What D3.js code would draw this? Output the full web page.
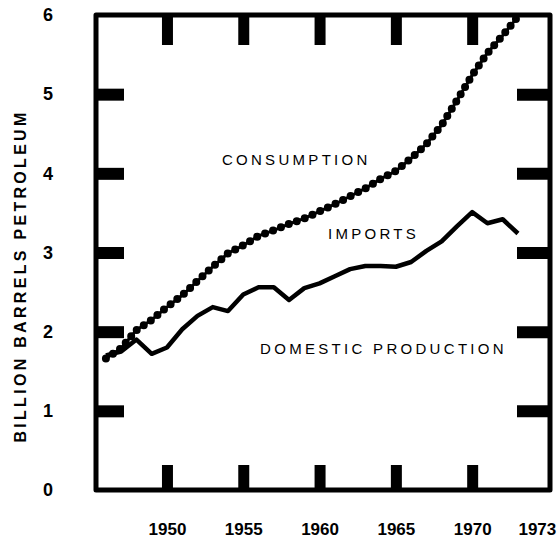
<!DOCTYPE html>
<html>
<head>
<meta charset="utf-8">
<script src="https://cdn.jsdelivr.net/npm/d3@7"></script>
<style>
  body { margin: 0; background: #fff; }
  text { font-family: "Liberation Sans", Arial, sans-serif; fill: #000; }
</style>
</head>
<body>
<svg id="chart" width="560" height="542"></svg>
<script>
// Petroleum, billion barrels per year
const years = [1946, 1947, 1948, 1949, 1950, 1951, 1952, 1953, 1954, 1955,
               1956, 1957, 1958, 1959, 1960, 1961, 1962, 1963, 1964, 1965,
               1966, 1967, 1968, 1969, 1970, 1971, 1972, 1973];
const consumption = [1.66, 1.79, 2.02, 2.15, 2.31, 2.46, 2.64, 2.82, 2.99, 3.09,
                     3.21, 3.28, 3.36, 3.43, 3.52, 3.61, 3.71, 3.81, 3.93, 4.03,
                     4.19, 4.37, 4.61, 4.92, 5.24, 5.52, 5.74, 5.98];
const production = [1.70, 1.75, 1.90, 1.72, 1.80, 2.03, 2.20, 2.31, 2.26, 2.47,
                    2.56, 2.56, 2.40, 2.55, 2.61, 2.70, 2.79, 2.83, 2.83, 2.82,
                    2.88, 3.02, 3.14, 3.33, 3.51, 3.37, 3.42, 3.24];
const yLabels = [0, 1, 2, 3, 4, 5, 6];
const yMarks = [1, 2, 3, 4, 5];
const xMarks = [1950, 1955, 1960, 1965, 1970];
const xLabels = [1950, 1955, 1960, 1965, 1970, 1973];
// annotation anchors in data units (year, billion barrels)
const notes = [
    { text: "CONSUMPTION", year: 1953.6, value: 4.10 },
    { text: "IMPORTS", year: 1960.55, value: 3.17 },
    { text: "DOMESTIC PRODUCTION", year: 1956.1, value: 1.72 }
];

const svg = d3.select("#chart"),
    margin = { top: 15, right: 10, bottom: 52, left: 96 },
    width = 560 - margin.left - margin.right,
    height = 542 - margin.top - margin.bottom;

const x = d3.scaleLinear().domain([1945.35, 1975.1]).range([margin.left, margin.left + width]);
const y = d3.scaleLinear().domain([0, 6]).range([margin.top + height, margin.top]);

const series = years.map((yr, i) => ({ year: yr, cons: consumption[i], prod: production[i] }));

// frame
svg.append("rect")
    .attr("x", margin.left)
    .attr("y", margin.top)
    .attr("width", width)
    .attr("height", height)
    .attr("fill", "none")
    .attr("stroke", "#000")
    .attr("stroke-width", 5)
    .attr("stroke-linejoin", "round");

// heavy inward tick bars on all four sides
function tickBars(g, w) {
    g.select(".domain").remove();
    g.selectAll("line").attr("stroke", "#000").attr("stroke-width", w);
}
svg.append("g").attr("transform", `translate(${margin.left},0)`)
    .call(d3.axisLeft(y).tickValues(yMarks).tickSizeInner(-28).tickSizeOuter(0).tickFormat(""))
    .call(g => tickBars(g, 12));
svg.append("g").attr("transform", `translate(${margin.left + width},0)`)
    .call(d3.axisRight(y).tickValues(yMarks).tickSizeInner(-33).tickSizeOuter(0).tickFormat(""))
    .call(g => tickBars(g, 12));
svg.append("g").attr("transform", `translate(0,${margin.top})`)
    .call(d3.axisTop(x).tickValues(xMarks).tickSizeInner(-30).tickSizeOuter(0).tickFormat(""))
    .call(g => tickBars(g, 11));
svg.append("g").attr("transform", `translate(0,${margin.top + height})`)
    .call(d3.axisBottom(x).tickValues(xMarks).tickSizeInner(-25).tickSizeOuter(0).tickFormat(""))
    .call(g => tickBars(g, 11));

// tick labels
svg.append("g").attr("transform", "translate(48,0)")
    .call(d3.axisLeft(y).tickValues(yLabels).tickSize(0).tickPadding(0).tickFormat(d3.format("d")))
    .call(g => g.select(".domain").remove())
    .selectAll("text")
    .attr("text-anchor", "middle")
    .style("font-size", "18px")
    .style("font-weight", "bold");

svg.append("g").attr("transform", `translate(0,${margin.top + height})`)
    .call(d3.axisBottom(x).tickValues(xLabels).tickSize(0).tickPadding(33).tickFormat(d3.format("d")))
    .call(g => g.select(".domain").remove())
    .selectAll("text")
    .attr("text-anchor", d => d === 1973 ? "start" : "middle")
    .style("font-size", "17px")
    .style("font-weight", "bold");

// y axis title
svg.append("text")
    .attr("transform", "translate(20,276) rotate(-90)")
    .attr("text-anchor", "middle")
    .attr("dy", "0.36em")
    .style("font-size", "16px")
    .style("font-weight", "bold")
    .style("letter-spacing", "3.3px")
    .text("BILLION BARRELS PETROLEUM");

// domestic production: plain heavy line
const prodLine = d3.line().x(d => x(d.year)).y(d => y(d.prod));
svg.append("path")
    .datum(series)
    .attr("d", prodLine)
    .attr("fill", "none")
    .attr("stroke", "#000")
    .attr("stroke-width", 4.5)
    .attr("stroke-linejoin", "round");

// consumption: beaded line
const consLine = d3.line().x(d => x(d.year)).y(d => y(d.cons));
svg.append("path")
    .datum(series)
    .attr("d", consLine)
    .attr("fill", "none")
    .attr("stroke", "#000")
    .attr("stroke-width", 3);
svg.append("path")
    .datum(series)
    .attr("d", consLine)
    .attr("fill", "none")
    .attr("stroke", "#000")
    .attr("stroke-width", 8)
    .attr("stroke-linecap", "round")
    .attr("stroke-dasharray", "0 8.5");

// series annotations
svg.selectAll(".note")
    .data(notes)
    .join("text")
    .attr("class", "note")
    .attr("x", d => x(d.year))
    .attr("y", d => y(d.value))
    .style("font-size", "15px")
    .style("letter-spacing", "3.3px")
    .text(d => d.text);
</script>
</body>
</html>
